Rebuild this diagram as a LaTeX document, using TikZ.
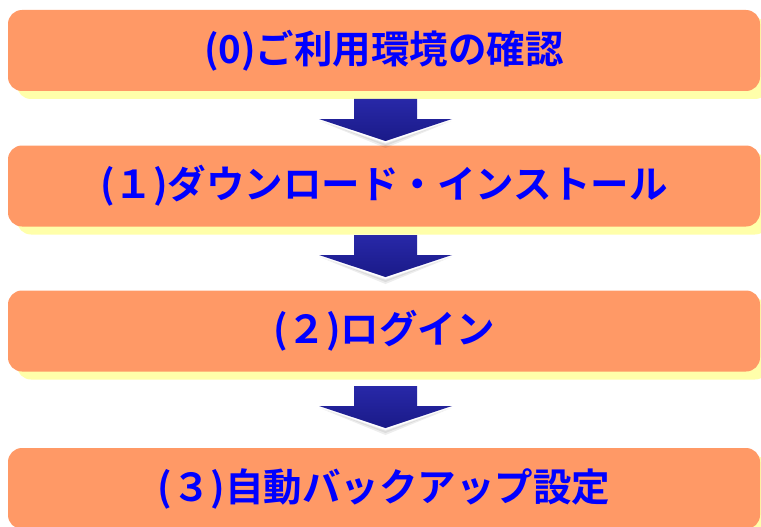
\documentclass[tikz,border=0pt]{standalone}
\usepackage{fontspec}
\newfontfamily\jp{Noto Sans CJK JP}[BoldFont={Noto Sans CJK JP Bold}]
\usetikzlibrary{shadows}
\definecolor{boxorange}{HTML}{FF9966}
\definecolor{shyellow}{HTML}{FFFFAA}
\definecolor{txtblue}{HTML}{0000FF}
\definecolor{arrtop}{HTML}{2828A8}
\definecolor{arrbot}{HTML}{1A1A88}
\tikzset{
  stepbox/.style={rectangle, rounded corners=14pt, fill=boxorange, draw=none,
    minimum width=752pt, minimum height=81pt, inner sep=0pt,
    general shadow={shadow xshift=9pt, shadow yshift=-8pt, fill=shyellow},
    text=txtblue, font=\jp\bfseries\fontsize{38.5}{40}\selectfont},
  pics/downarrow/.style={code={
    \fill[black, opacity=0.07] (-66,22) -- (0,49) -- (66,22) -- (0,45) -- cycle;
    \fill[black, opacity=0.07] (-64,22) -- (0,47) -- (64,22) -- (0,44) -- cycle;
    \shade[top color=arrtop, bottom color=arrbot] (-31.5,0) -- (31.5,0) -- (31.5,20) -- (66.5,20) -- (0,42) -- (-66.5,20) -- (-31.5,20) -- cycle;
  }}
}
\begin{document}
\begin{tikzpicture}[x=1pt,y=-1pt]
\useasboundingbox[fill=white] (0,0) rectangle (761,527);
\begin{scope}
\clip (0,0) rectangle (761,527);
\node[stepbox] (b0) at (384,50.5) {(0)ご利用環境の確認};
\node[stepbox] (b1) at (384,186) {(１)ダウンロード・インストール};
\node[stepbox] (b2) at (384,331) {(２)ログイン};
\node[stepbox] (b3) at (384,488.5) {(３)自動バックアップ設定};
\coordinate (a0) at (385.5,99);
\coordinate (a1) at (385.5,235);
\coordinate (a2) at (385.5,386);
\pic at (a0) {downarrow};
\pic at (a1) {downarrow};
\pic at (a2) {downarrow};
\end{scope}
\end{tikzpicture}
\end{document}
